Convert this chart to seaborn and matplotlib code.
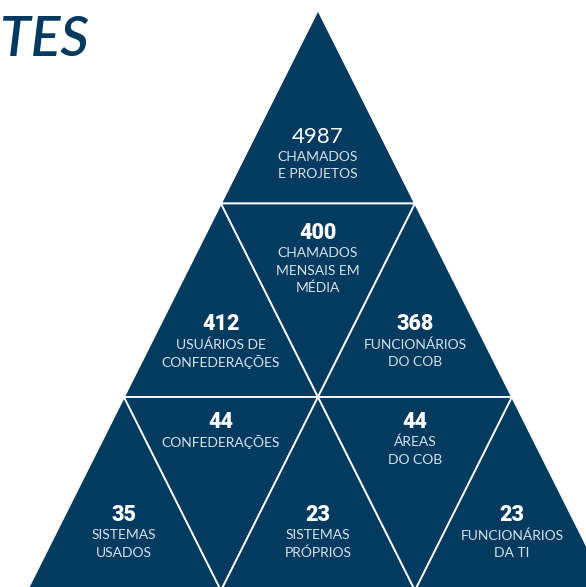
import matplotlib
matplotlib.use("Agg")
import matplotlib.pyplot as plt
import seaborn as sns

sns.set_theme(style="white")
plt.rcParams['font.family'] = ['Lato', 'DejaVu Sans']

# Data (row, position-in-row, number, label lines)
rows = [0, 1, 1, 1, 2, 2, 2, 2, 2]
cols = [0, 0, 1, 2, 0, 1, 2, 3, 4]
numbers = ["4987", "412", "400", "368", "35", "44", "23", "44", "23"]
labels = [
    ["CHAMADOS", "E PROJETOS"],
    ["USUÁRIOS DE", "CONFEDERAÇÕES"],
    ["CHAMADOS", "MENSAIS EM", "MÉDIA"],
    ["FUNCIONÁRIOS", "DO COB"],
    ["SISTEMAS", "USADOS"],
    ["CONFEDERAÇÕES"],
    ["SISTEMAS", "PRÓPRIOS"],
    ["ÁREAS", "DO COB"],
    ["FUNCIONÁRIOS", "DA TI"],
]
title = "TES"

NAVY = "#033a60"
LABEL_C = "#dbe3ea"

W, H = 586, 587
fig = plt.figure(figsize=(W / 100, H / 100), dpi=100)
ax = fig.add_axes([0, 0, 1, 1])
ax.set_xlim(0, W)
ax.set_ylim(H, 0)
ax.axis("off")

apex_x, apex_y = 318, 10
rh, hw = 193.5, 97

for r, c, num, lab in zip(rows, cols, numbers, labels):
    top = apex_y + r * rh
    bot = top + rh
    j = c // 2
    if c % 2 == 0:  # upward
        xs = [apex_x - (r + 1) * hw + 2 * j * hw,
              apex_x - (r + 1) * hw + 2 * (j + 1) * hw,
              apex_x - r * hw + 2 * j * hw]
        ys = [bot, bot, top]
        cx = xs[2]
        ny = top + (0.655 if r == 0 else 0.625 if r == 1 else 0.612) * rh
    else:  # downward
        xs = [apex_x - r * hw + 2 * j * hw,
              apex_x - r * hw + 2 * (j + 1) * hw,
              apex_x - (r + 1) * hw + 2 * (j + 1) * hw]
        ys = [top, top, bot]
        cx = xs[2]
        ny = top + 0.153 * rh if r == 1 else top + 0.13 * rh
    ax.fill(xs, ys, facecolor=NAVY, edgecolor="white", linewidth=1.3,
            joinstyle="miter")
    if r == 0:
        ax.text(cx, ny, num, ha="center", va="center", color="white",
                fontsize=16, fontweight="normal")
    else:
        ax.text(cx, ny, num, ha="center", va="center", color="white",
                fontsize=15.5, fontweight="black", family=["Roboto", "Lato"])
    for i, line in enumerate(lab):
        ax.text(cx, ny + 20 + i * 17.5, line, ha="center", va="center",
                color=LABEL_C, fontsize=10, fontweight="normal")

ax.text(0, 40, title, ha="left", va="center", color=NAVY,
        fontsize=40, fontstyle="italic", fontweight="semibold")

fig.savefig("out.png", dpi=100)
